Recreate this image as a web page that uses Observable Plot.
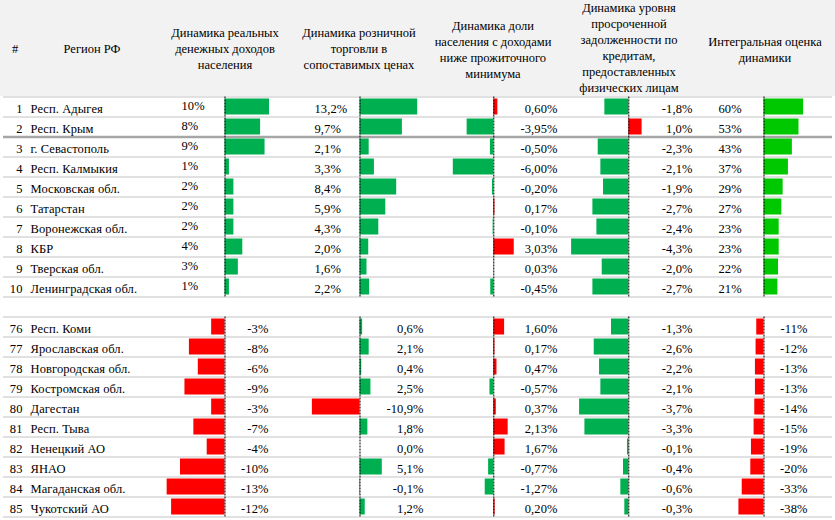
<!DOCTYPE html>
<html><head><meta charset="utf-8">
<script src="https://cdn.jsdelivr.net/npm/d3@7"></script>
<script src="https://cdn.jsdelivr.net/npm/@observablehq/plot@0.6"></script>
<style>
body{margin:0;background:#fff;}
#chart{position:relative;width:835px;height:520px;overflow:hidden;background:#fff;font-family:"Liberation Serif","Times New Roman",serif;}
#header{position:absolute;left:0;top:0;width:835px;height:96px;background:#f2f2f2;}
.h{position:absolute;transform:translate(-50%,-50%);text-align:center;font-size:12.5px;line-height:16px;white-space:nowrap;color:#000;}
.panel{position:absolute;top:96px;}
</style></head><body><div id="chart"><div id="header"></div></div>
<script>
// ---- data ----
const numbers = [1,2,3,4,5,6,7,8,9,10,76,77,78,79,80,81,82,83,84,85];
const regions = ["Респ. Адыгея","Респ. Крым","г. Севастополь","Респ. Калмыкия","Московская обл.","Татарстан","Воронежская обл.","КБР","Тверская обл.","Ленинградская обл.",
  "Респ. Коми","Ярославская обл.","Новгородская обл.","Костромская обл.","Дагестан","Респ. Тыва","Ненецкий АО","ЯНАО","Магаданская обл.","Чукотский АО"];
const incomeGrowth = [10,8,9,1,2,2,2,4,3,1,-3,-8,-6,-9,-3,-7,-4,-10,-13,-12];
const retailGrowth = [13.2,9.7,2.1,3.3,8.4,5.9,4.3,2.0,1.6,2.2,0.6,2.1,0.4,2.5,-10.9,1.8,0.0,5.1,-0.1,1.2];
const povertyShareChange = [0.60,-3.95,-0.50,-6.00,-0.20,0.17,-0.10,3.03,0.03,-0.45,1.60,0.17,0.47,-0.57,0.37,2.13,1.67,-0.77,-1.27,0.20];
const overdueDebtChange = [-1.8,1.0,-2.3,-2.1,-1.9,-2.7,-2.4,-4.3,-2.0,-2.7,-1.3,-2.6,-2.2,-2.1,-3.7,-3.3,-0.1,-0.4,-0.6,-0.3];
const integralScore = [60,53,43,37,29,27,23,23,22,21,-11,-12,-13,-13,-14,-15,-19,-20,-33,-38];
const headerLabels = [
  ["#"],
  ["Регион РФ"],
  ["Динамика реальных","денежных доходов","населения"],
  ["Динамика розничной","торговли в","сопоставимых ценах"],
  ["Динамика доли","населения с доходами","ниже прожиточного","минимума"],
  ["Динамика уровня","просроченной","задолженности по","кредитам,","предоставленных","физических лицам"],
  ["Интегральная оценка","динамики"]
];

// ---- layout ----
const headerPos = [[15,49],[92,49],[225,49],[359,49],[493,49.5],[629,47.5],[765,49.5]];
const GREEN = "#00b050", RED = "#ff0000", LIME = "#00c800";
const FONT = "Liberation Serif, Times New Roman, serif";
const loc = d3.formatLocale({decimal:",", thousands:" ", grouping:[3], currency:["",""], minus:"-"});

const rows = numbers.map((n,i) => ({
  num: n, region: regions[i], slot: i < 10 ? i : i + 1, top: i < 10,
  income: incomeGrowth[i], retail: retailGrowth[i], poverty: povertyShareChange[i],
  debt: overdueDebtChange[i], score: integralScore[i]
}));
const blocks = [{start:0,end:10},{start:11,end:21}];
const boundaries = [0,1,2,3,4,5,6,7,8,9,10,11,12,13,14,15,16,17,18,19,20,21];

const columns = [
  {key:"income",  fmt:".0f", left:160, right:295, zero:224.5, k:4.45, pos:GREEN, neg:RED, top:{anchor:"left",x:181,dy:-1.5}, bottom:{anchor:"right",x:268}},
  {key:"retail",  fmt:".1f", left:295, right:430, zero:359.5, k:4.37, pos:GREEN, neg:RED, top:{anchor:"left",x:314,dy:1.5}, bottom:{anchor:"right",x:423}},
  {key:"poverty", fmt:".2f", left:430, right:565, zero:493.3, k:6.75, pos:RED, neg:GREEN, top:{anchor:"right",x:557,dy:1.5}, bottom:{anchor:"right",x:557}},
  {key:"debt",    fmt:".1f", left:565, right:700, zero:628.3, k:13.3, pos:RED, neg:GREEN, top:{anchor:"right",x:692,dy:1.5}, bottom:{anchor:"right",x:692}},
  {key:"score",   fmt:".0f", left:700, right:835, zero:763.5, k:0.66, pos:LIME, neg:RED, top:{anchor:"left",x:718,dy:1.5}, bottom:{anchor:"right",x:807}}
];

const chart = document.getElementById("chart");
const header = document.getElementById("header");
headerLabels.forEach((lines, i) => {
  const d = document.createElement("div");
  d.className = "h";
  d.style.left = headerPos[i][0] + "px";
  d.style.top = headerPos[i][1] + "px";
  d.innerHTML = lines.join("<br>");
  header.appendChild(d);
});

const H = 424;
const yScale = {domain:[0,21], range:[0.5,420.5], axis:null};
const textStyle = {fontFamily: FONT, fontSize: "12.5px", letterSpacing: "0.1px", background: "transparent", overflow: "visible"};

function place(svg, left) {
  svg.classList.add("panel");
  svg.style.left = left + "px";
  chart.appendChild(svg);
}

// background: row separators, numbers and region names
place(Plot.plot({
  width: 835, height: H, margin: 0,
  x: {domain:[0,1], axis:null},
  y: yScale,
  style: textStyle,
  marks: [
    Plot.ruleY(boundaries, {y: d => d, stroke: d => d === 2 ? "#a6a6a6" : "#c3c3c3", strokeWidth: d => d === 2 ? 2.5 : 1, insetLeft: 3, insetRight: 3}),
    Plot.text(rows, {y: d => d.slot + 0.5, text: d => String(d.num), frameAnchor: "left", dx: 22, textAnchor: "end", dy: 1.5, fill: "#000"}),
    Plot.text(rows, {y: d => d.slot + 0.5, text: "region", frameAnchor: "left", dx: 30, textAnchor: "start", dy: 1.5, fill: "#000"})
  ]
}), 0);

// one panel per indicator column
columns.forEach(c => {
  const w = c.right - c.left, z = c.zero - c.left;
  const f = loc.format(c.fmt);
  const label = d => f(d[c.key]) + "%";
  const textFor = (subset, t) => Plot.text(subset, {
    y: d => d.slot + 0.5, text: label, frameAnchor: t.anchor,
    dx: t.anchor === "left" ? t.x - c.left : t.x - c.right,
    textAnchor: t.anchor === "left" ? "start" : "end", dy: t.dy ?? 1.5, fill: "#000"
  });
  place(Plot.plot({
    width: w, height: H, margin: 0,
    x: {domain: [-z / c.k, (w - z) / c.k], range: [0, w], axis: null},
    y: yScale,
    color: {type: "identity"},
    style: textStyle,
    marks: [
      Plot.rectX(rows, {x1: 0, x2: c.key, y1: "slot", y2: d => d.slot + 1, insetTop: 2, insetBottom: 2,
        fill: d => d[c.key] >= 0 ? c.pos : c.neg}),
      Plot.ruleX(blocks, {x: 0, y1: "start", y2: "end", stroke: "#000", strokeWidth: 1, strokeDasharray: "2,1"}),
      textFor(rows.filter(d => d.top), c.top),
      textFor(rows.filter(d => !d.top), c.bottom)
    ]
  }), c.left);
});
</script></body></html>
